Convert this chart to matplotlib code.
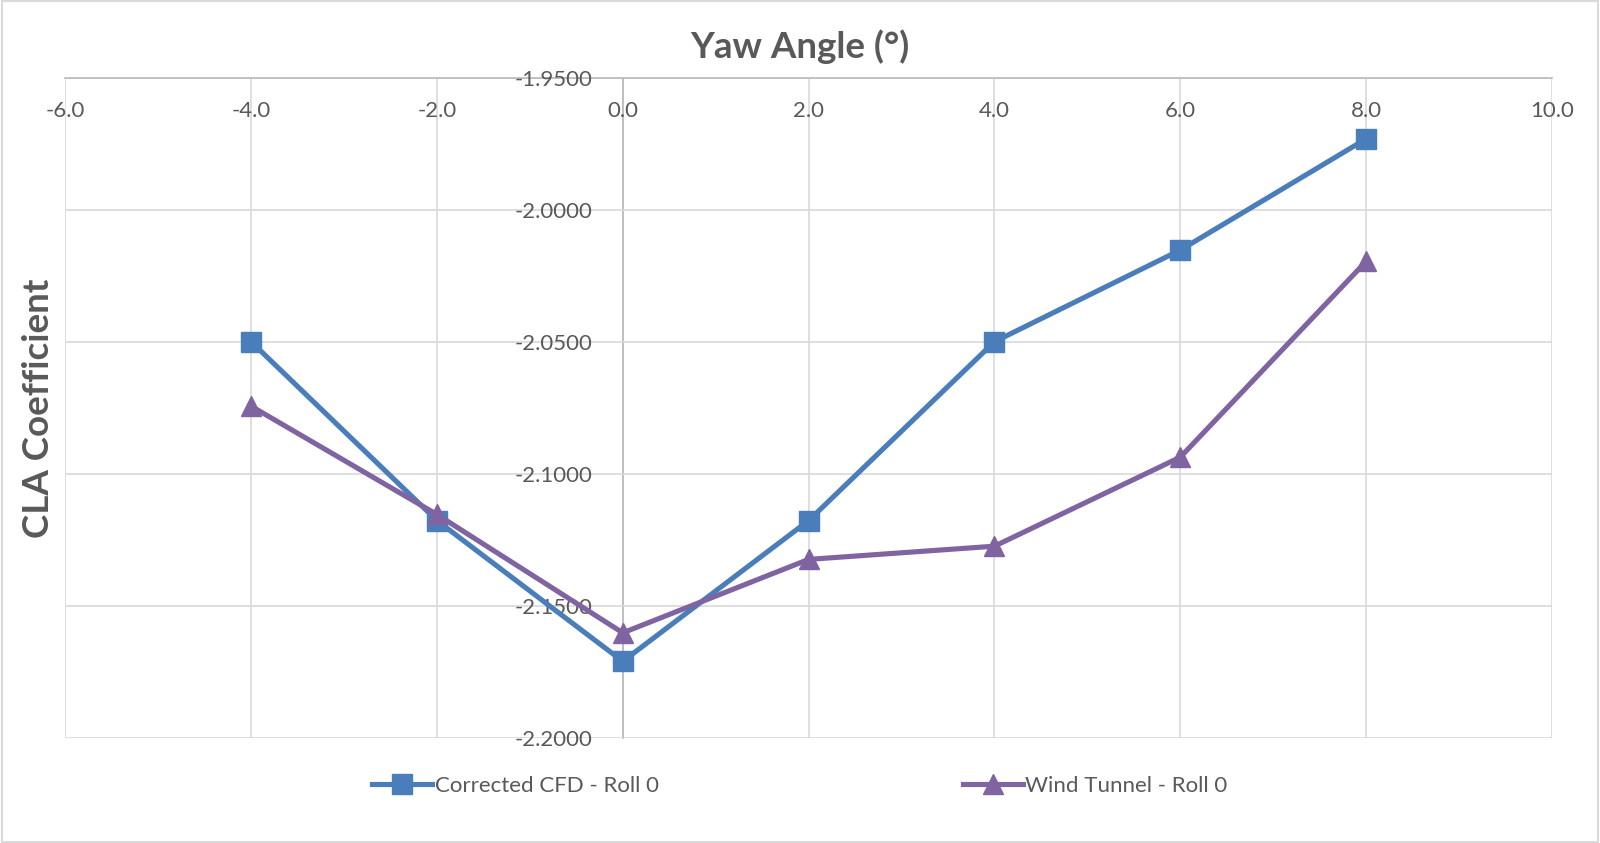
import numpy as np
import matplotlib.pyplot as plt
from matplotlib.patches import Rectangle
from matplotlib.ticker import FormatStrFormatter, MultipleLocator

plt.rcParams['font.family'] = ['Lato', 'DejaVu Sans']

# datos
yaw = [-4, -2, 0, 2, 4, 6, 8]
cfd = [-2.0500, -2.1177, -2.1710, -2.1177, -2.0500, -2.0153, -1.9732]
tunel = [-2.0744, -2.1154, -2.1602, -2.1324, -2.1274, -2.0937, -2.0196]
nombres = ['Corrected CFD - Roll 0', 'Wind Tunnel - Roll 0']

azul = '#4a7ebb'
morado = '#8064a2'
gris = '#595959'
gris_eje = '#bfbfbf'

fig = plt.figure(figsize=(16, 8.43), dpi=100)
ax = fig.add_axes([0.0408, 0.1246, 0.9292, 0.7834])

ax.plot(yaw, cfd, color=azul, lw=3.7, marker='s', ms=14, label=nombres[0], zorder=3)
ax.plot(yaw, tunel, color=morado, lw=3.7, marker='^', ms=14, label=nombres[1], zorder=3)

ax.set_xlim(-6, 10)
ax.set_ylim(-2.2, -1.95)
ax.xaxis.set_major_locator(MultipleLocator(2))
ax.yaxis.set_major_locator(MultipleLocator(0.05))
ax.xaxis.set_major_formatter(FormatStrFormatter('%.1f'))
ax.yaxis.set_major_formatter(FormatStrFormatter('%.4f'))

# ejes estilo Excel
for s in ['right', 'bottom']:
    ax.spines[s].set_visible(False)
ax.spines['left'].set_position(('data', 0))
for s in ['left', 'top']:
    ax.spines[s].set_color(gris_eje)
    ax.spines[s].set_linewidth(1.3)
    ax.spines[s].set_zorder(0.4)  # las etiquetas quedan encima
ax.xaxis.tick_top()
ax.tick_params(axis='x', length=0, pad=-31, labelsize=16, colors=gris)
ax.tick_params(axis='y', length=0, pad=22, labelsize=16, colors=gris)
ax.grid(True, color='#d9d9d9', lw=1.2, zorder=0)
ax.set_axisbelow(True)

fig.text(0.5, 0.945, 'Yaw Angle (°)', ha='center', va='center',
         fontsize=26.5, fontweight='bold', color=gris)
fig.text(0.024, 0.516, 'CLA Coefficient', ha='center', va='center',
         rotation=90, fontsize=26.5, fontweight='bold', color=gris)

fig.legend(loc='center', bbox_to_anchor=(0.5, 0.068), ncol=2, frameon=False,
           fontsize=16, labelcolor=gris, columnspacing=13.7, handlelength=2.7,
           handletextpad=0.1)

fig.add_artist(Rectangle((0.001, 0.001), 0.998, 0.998, transform=fig.transFigure,
                         fill=False, edgecolor='#d9d9d9', lw=1.5))

# lineas de rejilla que coinciden con los ejes, mas oscuras
fig.canvas.draw()
for t in ax.xaxis.get_major_ticks():
    if abs(t.get_loc()) < 1e-9:
        t.gridline.set_color(gris_eje)
        t.gridline.set_linewidth(1.3)
for t in ax.yaxis.get_major_ticks():
    if abs(t.get_loc() + 1.95) < 1e-9:
        t.gridline.set_color(gris_eje)
        t.gridline.set_linewidth(1.3)

fig.savefig('out.png', dpi=100)
